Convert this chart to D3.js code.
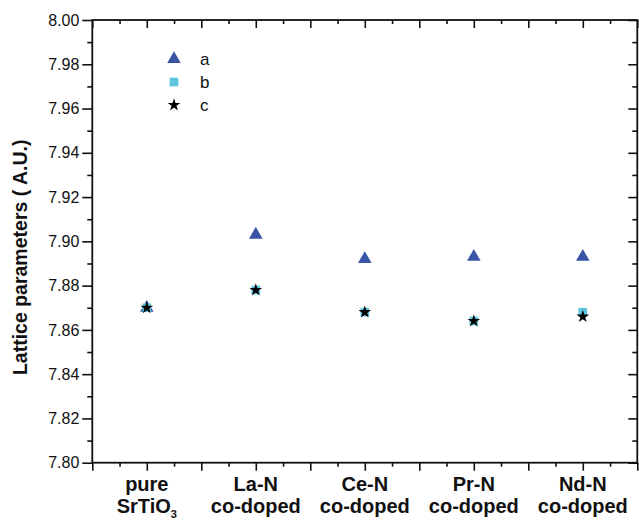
<!DOCTYPE html>
<html>
<head>
<meta charset="utf-8">
<script src="https://cdn.jsdelivr.net/npm/d3@7"></script>
<style>
  body { margin: 0; background: #fff; }
  svg { display: block; font-family: "Liberation Sans", Arial, sans-serif; }
</style>
</head>
<body>
<svg id="chart" width="639" height="521"></svg>
<script>
// samples along the x axis (positions 1..5)
const samples = ["pure", "La-N", "Ce-N", "Pr-N", "Nd-N"];
const sampleSub = ["SrTiO", "co-doped", "co-doped", "co-doped", "co-doped"];
// lattice parameters
const aValues = [7.870, 7.903, 7.892, 7.893, 7.893];
const bValues = [7.870, 7.878, 7.868, 7.864, 7.868];
const cValues = [7.870, 7.878, 7.868, 7.864, 7.866];
const yTicks = [7.80, 7.82, 7.84, 7.86, 7.88, 7.90, 7.92, 7.94, 7.96, 7.98, 8.00];

const svg = d3.select("#chart");
const m = { left: 92.3, right: 637.3, top: 20, bottom: 462.7 };

const x = d3.scaleLinear().domain([0.5, 5.5]).range([m.left, m.right]);
const y = d3.scaleLinear().domain([7.80, 8.00]).range([m.bottom, m.top]);

const xMajor = d3.range(0.5, 5.51, 0.5);
const xMinor = d3.range(0.75, 5.5, 0.5);
const yMinor = d3.range(7.81, 8.0, 0.02);

const axisColor = "#111";

function styleAxis(g) {
  g.select(".domain").remove();
  g.selectAll("line").attr("stroke", axisColor).attr("stroke-width", 1.6);
}

// bottom axis: outward ticks, labels drawn separately
svg.append("g")
  .attr("transform", `translate(0,${m.bottom})`)
  .call(d3.axisBottom(x).tickValues(xMajor).tickSize(8).tickFormat(""))
  .call(styleAxis);
svg.append("g")
  .attr("transform", `translate(0,${m.bottom})`)
  .call(d3.axisBottom(x).tickValues(xMinor).tickSize(4).tickFormat(""))
  .call(styleAxis);

// top axis: inward ticks
svg.append("g")
  .attr("transform", `translate(0,${m.top})`)
  .call(d3.axisTop(x).tickValues(xMajor).tickSize(-8).tickFormat(""))
  .call(styleAxis);
svg.append("g")
  .attr("transform", `translate(0,${m.top})`)
  .call(d3.axisTop(x).tickValues(xMinor).tickSize(-4).tickFormat(""))
  .call(styleAxis);

// left axis
const yLeft = svg.append("g")
  .attr("transform", `translate(${m.left},0)`)
  .call(d3.axisLeft(y).tickValues(yTicks).tickSize(10).tickPadding(3).tickFormat(d3.format(".2f")))
  .call(styleAxis);
yLeft.selectAll("text")
  .attr("fill", "#111")
  .style("font-size", "16px")
  .style("font-family", "Liberation Sans, Arial, sans-serif");
svg.append("g")
  .attr("transform", `translate(${m.left},0)`)
  .call(d3.axisLeft(y).tickValues(yMinor).tickSize(5).tickFormat(""))
  .call(styleAxis);

// right axis: inward ticks
svg.append("g")
  .attr("transform", `translate(${m.right},0)`)
  .call(d3.axisRight(y).tickValues(yTicks).tickSize(-9).tickFormat(""))
  .call(styleAxis);
svg.append("g")
  .attr("transform", `translate(${m.right},0)`)
  .call(d3.axisRight(y).tickValues(yMinor).tickSize(-5).tickFormat(""))
  .call(styleAxis);

// frame
svg.append("rect")
  .attr("x", m.left).attr("y", m.top)
  .attr("width", m.right - m.left).attr("height", m.bottom - m.top)
  .attr("fill", "none").attr("stroke", axisColor).attr("stroke-width", 1.8);

// category labels
const catG = svg.append("g")
  .attr("font-weight", "bold")
  .attr("font-size", "20px")
  .attr("fill", "#111")
  .attr("text-anchor", "middle");
samples.forEach((s, i) => {
  catG.append("text").attr("x", x(i + 1)).attr("y", 491).text(s);
  const t = catG.append("text").attr("x", x(i + 1)).attr("y", 513);
  t.append("tspan").text(sampleSub[i]);
  if (i === 0) {
    t.append("tspan").attr("font-size", "11px").attr("dy", 5).text("3");
  }
});

// y axis title
svg.append("text")
  .attr("transform", `translate(27,${(m.top + m.bottom) / 2 + 16}) rotate(-90)`)
  .attr("text-anchor", "middle")
  .attr("font-weight", "bold")
  .attr("font-size", "19.5px")
  .attr("fill", "#111")
  .text("Lattice parameters ( A.U.)");

// series
const series = [
  { name: "a", values: aValues, type: d3.symbolTriangle, size: 80, color: "#3a54a5" },
  { name: "b", values: bValues, type: d3.symbolSquare, size: 75, color: "#5cc7de" },
  { name: "c", values: cValues, type: d3.symbolStar, size: 50, color: "#000" }
];

series.forEach(s => {
  svg.append("g")
    .selectAll("path")
    .data(s.values)
    .join("path")
    .attr("d", d3.symbol().type(s.type).size(s.size))
    .attr("transform", (d, i) => `translate(${x(i + 1)},${y(d)})`)
    .attr("fill", s.color);
});

// legend
const legend = svg.append("g").attr("transform", "translate(174,59)");
series.forEach((s, i) => {
  const row = legend.append("g").attr("transform", `translate(0,${i * 23})`);
  row.append("path")
    .attr("d", d3.symbol().type(s.type).size(s.size))
    .attr("fill", s.color);
  row.append("text")
    .attr("x", 26).attr("y", 6)
    .attr("font-size", "17px")
    .attr("fill", "#111")
    .text(s.name);
});
</script>
</body>
</html>
